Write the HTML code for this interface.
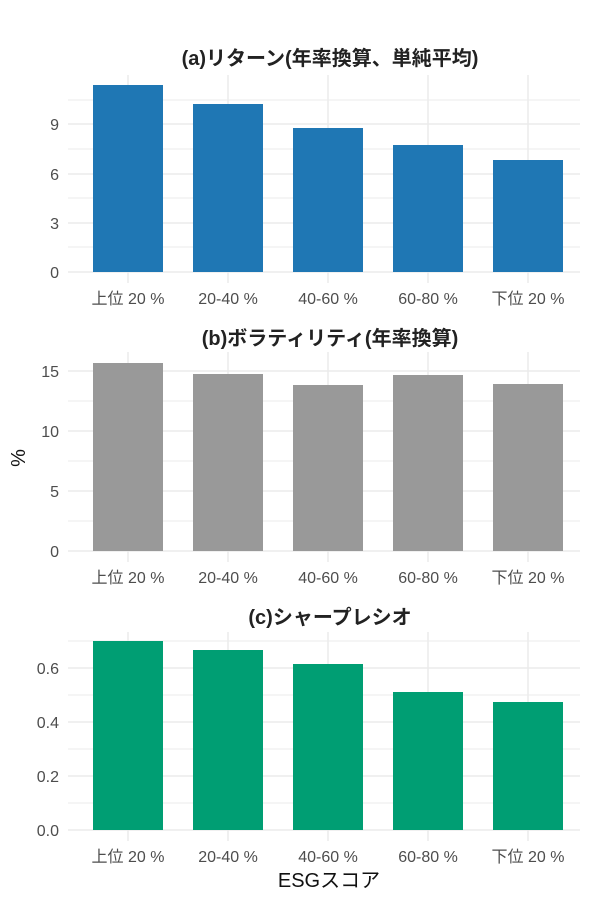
<!DOCTYPE html>
<html><head><meta charset="utf-8"><style>body{margin:0;background:#fff}svg{display:block}text{font-family:"Liberation Sans","Noto Sans CJK JP",sans-serif}</style></head>
<body>
<svg width="600" height="900" xmlns="http://www.w3.org/2000/svg">
<g stroke="#ebebeb" stroke-width="1">
<line x1="68" x2="580" y1="272" y2="272" stroke-width="1.5"/><line x1="68" x2="580" y1="223" y2="223" stroke-width="1.5"/><line x1="68" x2="580" y1="174" y2="174" stroke-width="1.5"/><line x1="68" x2="580" y1="124" y2="124" stroke-width="1.5"/>
<line x1="68" x2="580" y1="247" y2="247"/><line x1="68" x2="580" y1="198" y2="198"/><line x1="68" x2="580" y1="149" y2="149"/><line x1="68" x2="580" y1="100" y2="100"/>
<line y1="75" y2="283" x1="128" x2="128" stroke-width="1.5"/><line y1="75" y2="283" x1="228" x2="228" stroke-width="1.5"/><line y1="75" y2="283" x1="328" x2="328" stroke-width="1.5"/><line y1="75" y2="283" x1="428" x2="428" stroke-width="1.5"/><line y1="75" y2="283" x1="528" x2="528" stroke-width="1.5"/>
<line x1="68" x2="580" y1="551" y2="551" stroke-width="1.5"/><line x1="68" x2="580" y1="491" y2="491" stroke-width="1.5"/><line x1="68" x2="580" y1="431" y2="431" stroke-width="1.5"/><line x1="68" x2="580" y1="371" y2="371" stroke-width="1.5"/>
<line x1="68" x2="580" y1="521" y2="521"/><line x1="68" x2="580" y1="461" y2="461"/><line x1="68" x2="580" y1="401" y2="401"/>
<line y1="352" y2="562" x1="128" x2="128" stroke-width="1.5"/><line y1="352" y2="562" x1="228" x2="228" stroke-width="1.5"/><line y1="352" y2="562" x1="328" x2="328" stroke-width="1.5"/><line y1="352" y2="562" x1="428" x2="428" stroke-width="1.5"/><line y1="352" y2="562" x1="528" x2="528" stroke-width="1.5"/>
<line x1="68" x2="580" y1="830" y2="830" stroke-width="1.5"/><line x1="68" x2="580" y1="776" y2="776" stroke-width="1.5"/><line x1="68" x2="580" y1="722" y2="722" stroke-width="1.5"/><line x1="68" x2="580" y1="668" y2="668" stroke-width="1.5"/>
<line x1="68" x2="580" y1="803" y2="803"/><line x1="68" x2="580" y1="749" y2="749"/><line x1="68" x2="580" y1="695" y2="695"/><line x1="68" x2="580" y1="641" y2="641"/>
<line y1="632" y2="841" x1="128" x2="128" stroke-width="1.5"/><line y1="632" y2="841" x1="228" x2="228" stroke-width="1.5"/><line y1="632" y2="841" x1="328" x2="328" stroke-width="1.5"/><line y1="632" y2="841" x1="428" x2="428" stroke-width="1.5"/><line y1="632" y2="841" x1="528" x2="528" stroke-width="1.5"/>
</g>
<g fill="#1f77b4">
<rect x="93" y="85" width="70" height="187"/><rect x="193" y="104" width="70" height="168"/><rect x="293" y="128" width="70" height="144"/><rect x="393" y="145" width="70" height="127"/><rect x="493" y="160" width="70" height="112"/>
</g>
<g fill="#999999">
<rect x="93" y="363" width="70" height="188"/><rect x="193" y="374" width="70" height="177"/><rect x="293" y="385" width="70" height="166"/><rect x="393" y="375" width="70" height="176"/><rect x="493" y="384" width="70" height="167"/>
</g>
<g fill="#009e73">
<rect x="93" y="641" width="70" height="189"/><rect x="193" y="650" width="70" height="180"/><rect x="293" y="664" width="70" height="166"/><rect x="393" y="692" width="70" height="138"/><rect x="493" y="702" width="70" height="128"/>
</g>
<g font-size="20" font-weight="bold" fill="#222" text-anchor="middle">
<text x="330" y="65">(a)リターン(年率換算、単純平均)</text>
<text x="330" y="345">(b)ボラティリティ(年率換算)</text>
<text x="330" y="624">(c)シャープレシオ</text>
</g>
<g font-size="16" fill="#4d4d4d" text-anchor="end">
<text x="59" y="278">0</text><text x="59" y="229">3</text><text x="59" y="180">6</text><text x="59" y="130">9</text>
<text x="59" y="557">0</text><text x="59" y="497">5</text><text x="59" y="437">10</text><text x="59" y="377">15</text>
<text x="59" y="836">0.0</text><text x="59" y="782">0.2</text><text x="59" y="728">0.4</text><text x="59" y="674">0.6</text>
</g>
<g font-size="16" fill="#4d4d4d" text-anchor="middle">
<text x="128" y="304">上位 20 %</text><text x="228" y="304">20-40 %</text><text x="328" y="304">40-60 %</text><text x="428" y="304">60-80 %</text><text x="528" y="304">下位 20 %</text>
<text x="128" y="583">上位 20 %</text><text x="228" y="583">20-40 %</text><text x="328" y="583">40-60 %</text><text x="428" y="583">60-80 %</text><text x="528" y="583">下位 20 %</text>
<text x="128" y="862">上位 20 %</text><text x="228" y="862">20-40 %</text><text x="328" y="862">40-60 %</text><text x="428" y="862">60-80 %</text><text x="528" y="862">下位 20 %</text>
</g>
<text x="329" y="887" font-size="20" fill="#111" text-anchor="middle">ESGスコア</text>
<text transform="translate(25,458) rotate(-90)" font-size="20" fill="#111" text-anchor="middle">%</text>
</svg>
</body></html>
